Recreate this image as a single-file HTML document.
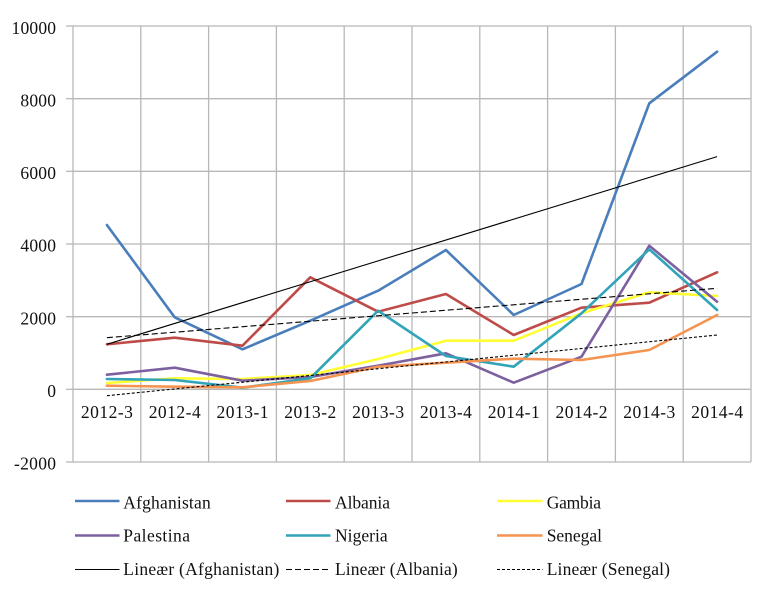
<!DOCTYPE html>
<html><head><meta charset="utf-8"><style>
html,body{margin:0;padding:0;background:#fff;}
svg{display:block;}
text{font-family:"Liberation Serif",serif;font-size:17.5px;fill:#111;}
</style></head><body>
<svg width="768" height="598" viewBox="0 0 768 598" xmlns="http://www.w3.org/2000/svg">
<rect width="768" height="598" fill="#fff"/>
<g stroke="#b8b8b8" stroke-width="1.3" fill="none">
<line x1="73" y1="26" x2="751" y2="26"/>
<line x1="73" y1="98.7" x2="751" y2="98.7"/>
<line x1="73" y1="171.3" x2="751" y2="171.3"/>
<line x1="73" y1="244" x2="751" y2="244"/>
<line x1="73" y1="316.7" x2="751" y2="316.7"/>
<line x1="73" y1="389.3" x2="751" y2="389.3"/>
<line x1="73" y1="462" x2="751" y2="462"/>
<line x1="73" y1="26" x2="73" y2="462"/>
<line x1="140.8" y1="26" x2="140.8" y2="462"/>
<line x1="208.6" y1="26" x2="208.6" y2="462"/>
<line x1="276.4" y1="26" x2="276.4" y2="462"/>
<line x1="344.2" y1="26" x2="344.2" y2="462"/>
<line x1="412" y1="26" x2="412" y2="462"/>
<line x1="479.8" y1="26" x2="479.8" y2="462"/>
<line x1="547.6" y1="26" x2="547.6" y2="462"/>
<line x1="615.4" y1="26" x2="615.4" y2="462"/>
<line x1="683.2" y1="26" x2="683.2" y2="462"/>
<line x1="751" y1="26" x2="751" y2="462"/>
<line x1="66" y1="26" x2="73" y2="26"/>
<line x1="66" y1="98.7" x2="73" y2="98.7"/>
<line x1="66" y1="171.3" x2="73" y2="171.3"/>
<line x1="66" y1="244" x2="73" y2="244"/>
<line x1="66" y1="316.7" x2="73" y2="316.7"/>
<line x1="66" y1="389.3" x2="73" y2="389.3"/>
<line x1="66" y1="462" x2="73" y2="462"/>
</g>
<g text-anchor="end">
<text x="56" y="34" textLength="44.5" lengthAdjust="spacing">10000</text>
<text x="56" y="106.5" textLength="35.6" lengthAdjust="spacing">8000</text>
<text x="56" y="179" textLength="35.6" lengthAdjust="spacing">6000</text>
<text x="56" y="251.7" textLength="35.6" lengthAdjust="spacing">4000</text>
<text x="56" y="324.3" textLength="35.6" lengthAdjust="spacing">2000</text>
<text x="56" y="397">0</text>
<text x="56" y="469.7" textLength="42" lengthAdjust="spacing">-2000</text>
</g>
<g text-anchor="middle">
<text x="106.9" y="418" textLength="52" lengthAdjust="spacing">2012-3</text>
<text x="174.7" y="418" textLength="52" lengthAdjust="spacing">2012-4</text>
<text x="242.5" y="418" textLength="52" lengthAdjust="spacing">2013-1</text>
<text x="310.3" y="418" textLength="52" lengthAdjust="spacing">2013-2</text>
<text x="378.1" y="418" textLength="52" lengthAdjust="spacing">2013-3</text>
<text x="445.9" y="418" textLength="52" lengthAdjust="spacing">2013-4</text>
<text x="513.7" y="418" textLength="52" lengthAdjust="spacing">2014-1</text>
<text x="581.5" y="418" textLength="52" lengthAdjust="spacing">2014-2</text>
<text x="649.3" y="418" textLength="52" lengthAdjust="spacing">2014-3</text>
<text x="717.1" y="418" textLength="52" lengthAdjust="spacing">2014-4</text>
</g>
<g fill="none" stroke-width="2.6" stroke-linejoin="round" stroke-linecap="round">
<polyline stroke="#4A7EBB" points="106.9,225 174.7,317.3 242.5,349.3 310.3,320.7 378.1,290.7 445.9,250 513.7,315 581.5,284 649.3,103.3 717.1,51.7"/>
<polyline stroke="#BE4B48" points="106.9,344.3 174.7,337.7 242.5,345.7 310.3,277.3 378.1,311.7 445.9,294 513.7,335 581.5,307.7 649.3,302.7 717.1,272.3"/>
<polyline stroke="#FFFF33" points="106.9,383 174.7,378.3 242.5,379 310.3,375 378.1,359 445.9,340.7 513.7,340.7 581.5,313.3 649.3,292.3 717.1,296"/>
<polyline stroke="#7D60A0" points="106.9,374.7 174.7,367.7 242.5,380.7 310.3,377 378.1,365.7 445.9,353.3 513.7,382.7 581.5,356.7 649.3,245.7 717.1,301.7"/>
<polyline stroke="#31A4BA" points="106.9,379 174.7,380 242.5,387.7 310.3,378.3 378.1,310.7 445.9,356 513.7,366.7 581.5,313.3 649.3,249.3 717.1,310"/>
<polyline stroke="#F59450" points="106.9,385.7 174.7,386.7 242.5,387.3 310.3,381 378.1,366.7 445.9,362.7 513.7,358.7 581.5,360 649.3,350 717.1,315"/>
</g>
<g fill="none" stroke="#000" stroke-width="1.1">
<line x1="106.9" y1="344.3" x2="717.1" y2="156.6"/>
<line x1="106.9" y1="337.7" x2="717.1" y2="288.3" stroke-dasharray="6,3"/>
<line x1="106.9" y1="395.7" x2="717.1" y2="335" stroke-dasharray="3,2"/>
</g>
<g fill="none">
<line x1="75" y1="501" x2="119.5" y2="501" stroke="#4A7EBB" stroke-width="2.6"/>
<line x1="286" y1="501" x2="330.5" y2="501" stroke="#BE4B48" stroke-width="2.6"/>
<line x1="497" y1="501" x2="542.5" y2="501" stroke="#FFFF33" stroke-width="2.6"/>
<line x1="75" y1="535.5" x2="119.5" y2="535.5" stroke="#7D60A0" stroke-width="2.6"/>
<line x1="286" y1="535.5" x2="330.5" y2="535.5" stroke="#31A4BA" stroke-width="2.6"/>
<line x1="497" y1="535.5" x2="542.5" y2="535.5" stroke="#F59450" stroke-width="2.6"/>
<line x1="75" y1="569.5" x2="119.5" y2="569.5" stroke="#000" stroke-width="1.1"/>
<line x1="286" y1="569.5" x2="330.5" y2="569.5" stroke="#000" stroke-width="1.1" stroke-dasharray="6,3"/>
<line x1="497" y1="569.5" x2="542.5" y2="569.5" stroke="#000" stroke-width="1.1" stroke-dasharray="3,2"/>
</g>
<g>
<text x="123.3" y="508.3" textLength="87.4" lengthAdjust="spacing">Afghanistan</text>
<text x="335" y="508.3" textLength="55" lengthAdjust="spacing">Albania</text>
<text x="546.7" y="508.3" textLength="54.3" lengthAdjust="spacing">Gambia</text>
<text x="123.3" y="541.6" textLength="66.7" lengthAdjust="spacing">Palestina</text>
<text x="335" y="541.6" textLength="52.7" lengthAdjust="spacing">Nigeria</text>
<text x="546.7" y="541.6" textLength="55.3" lengthAdjust="spacing">Senegal</text>
<text x="123.3" y="575" textLength="156" lengthAdjust="spacing">Lineær (Afghanistan)</text>
<text x="335" y="575" textLength="122.7" lengthAdjust="spacing">Lineær (Albania)</text>
<text x="546.7" y="575" textLength="123.3" lengthAdjust="spacing">Lineær (Senegal)</text>
</g>
</svg>
</body></html>
